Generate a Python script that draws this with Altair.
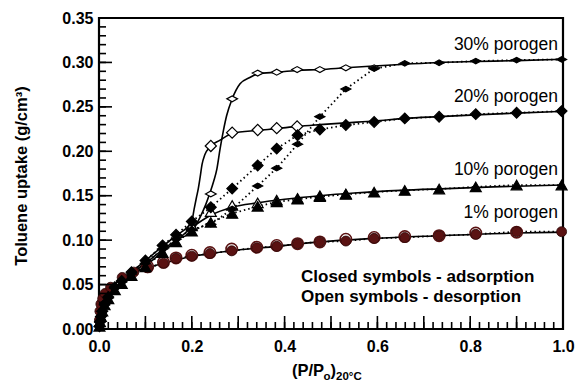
import altair as alt
import pandas as pd

# ---------------- data ----------------
# 1% porogen (circles)
P1_ADS_X = [0.001, 0.002, 0.004, 0.008, 0.013, 0.025, 0.05, 0.075, 0.105, 0.139, 0.166, 0.2, 0.239, 0.286,
            0.34, 0.383, 0.428, 0.476, 0.532, 0.593, 0.659, 0.733, 0.812, 0.9, 0.997]
P1_ADS_Y = [0.010, 0.020, 0.028, 0.034, 0.040, 0.047, 0.058, 0.064, 0.069, 0.074, 0.0795, 0.082, 0.085, 0.088,
            0.0915, 0.093, 0.096, 0.098, 0.099, 0.102, 0.103, 0.105, 0.1065, 0.1095, 0.1095]
P1_DES_X = [0.105, 0.139, 0.166, 0.2, 0.239, 0.286, 0.34, 0.383, 0.428, 0.476, 0.532, 0.593, 0.659, 0.733, 0.812, 0.9]
P1_DES_Y = [0.070, 0.075, 0.080, 0.083, 0.086, 0.090, 0.092, 0.094, 0.096, 0.098, 0.101, 0.103, 0.104, 0.105, 0.108, 0.109]
P1_FIT_X = [0.0, 0.002, 0.005, 0.01, 0.02, 0.035, 0.05, 0.075, 0.105, 0.139, 0.2, 0.286, 0.383, 0.476, 0.593, 0.733, 0.9, 1.0]
P1_FIT_Y = [0.0, 0.018, 0.029, 0.037, 0.044, 0.051, 0.057, 0.064, 0.069, 0.074, 0.0815, 0.088, 0.093, 0.098, 0.102, 0.105, 0.108, 0.109]

# common x grid of the black-symbol series
X_ADS = [0.001, 0.002, 0.004, 0.007, 0.012, 0.02, 0.034, 0.049, 0.07, 0.1, 0.137, 0.166, 0.2, 0.241, 0.287,
         0.342, 0.383, 0.428, 0.476, 0.532, 0.593, 0.659, 0.733, 0.812, 0.9, 0.997]

# 10% porogen (triangles)
P10_ADS_Y = [0.003, 0.008, 0.014, 0.020, 0.027, 0.034, 0.044, 0.051, 0.060, 0.070, 0.086, 0.098, 0.110, 0.120,
             0.130, 0.138, 0.143, 0.146, 0.149, 0.1515, 0.154, 0.156, 0.1575, 0.160, 0.162, 0.162]
P10_DES_X = [0.2, 0.241, 0.287, 0.342, 0.383, 0.428, 0.476, 0.532]
P10_DES_Y = [0.116, 0.132, 0.139, 0.142, 0.145, 0.147, 0.150, 0.152]
P10_FIT_X = [0.0, 0.002, 0.005, 0.01, 0.02, 0.035, 0.05, 0.07, 0.1, 0.137, 0.166, 0.2, 0.241, 0.287, 0.342,
             0.4, 0.476, 0.55, 0.65, 0.75, 0.85, 1.0]
P10_FIT_Y = [0.0, 0.009, 0.017, 0.025, 0.034, 0.044, 0.051, 0.060, 0.071, 0.087, 0.099, 0.114, 0.128, 0.137,
             0.142, 0.146, 0.150, 0.153, 0.156, 0.158, 0.160, 0.162]

# 20% porogen (large diamonds)
P20_ADS_Y = [0.003, 0.008, 0.014, 0.020, 0.028, 0.036, 0.047, 0.054, 0.064, 0.077, 0.094, 0.106, 0.121, 0.137,
             0.158, 0.184, 0.203, 0.218, 0.2246, 0.2295, 0.233, 0.237, 0.2388, 0.2418, 0.2433, 0.2452]
P20_DES_X = [0.241, 0.287, 0.342, 0.383, 0.427]
P20_DES_Y = [0.206, 0.221, 0.224, 0.226, 0.228]
P20_FIT_X = [0.0, 0.002, 0.005, 0.01, 0.02, 0.035, 0.05, 0.07, 0.1, 0.137, 0.166, 0.2, 0.205, 0.21, 0.214,
             0.218, 0.222, 0.228, 0.239, 0.261, 0.287, 0.342, 0.383, 0.427, 0.476, 0.532, 0.593, 0.659,
             0.733, 0.812, 0.9, 1.0]
P20_FIT_Y = [0.0, 0.009, 0.017, 0.025, 0.035, 0.046, 0.054, 0.064, 0.077, 0.093, 0.105, 0.121, 0.135, 0.148,
             0.158, 0.171, 0.185, 0.196, 0.205, 0.2125, 0.220, 0.2235, 0.2255, 0.228, 0.230, 0.232, 0.234,
             0.237, 0.239, 0.241, 0.243, 0.245]

# 30% porogen (flat diamonds)
P30_ADS_Y = [0.003, 0.008, 0.014, 0.020, 0.027, 0.035, 0.046, 0.053, 0.062, 0.074, 0.090, 0.101, 0.112, 0.118,
             0.135, 0.161, 0.181, 0.208, 0.239, 0.270, 0.293, 0.299, 0.2996, 0.3015, 0.3026, 0.3034]
P30_DES_X = [0.241, 0.287, 0.342, 0.383, 0.427, 0.476, 0.532, 0.593]
P30_DES_Y = [0.152, 0.259, 0.288, 0.289, 0.292, 0.292, 0.294, 0.294]
P30_FIT_X = [0.0, 0.002, 0.005, 0.01, 0.02, 0.035, 0.05, 0.07, 0.1, 0.137, 0.166, 0.2, 0.218, 0.23, 0.239,
             0.247, 0.254, 0.261, 0.268, 0.275, 0.287, 0.304, 0.325, 0.342, 0.383, 0.427, 0.476, 0.532,
             0.593, 0.659, 0.733, 0.812, 0.9, 1.0]
P30_FIT_Y = [0.0, 0.009, 0.017, 0.025, 0.034, 0.045, 0.053, 0.062, 0.074, 0.089, 0.100, 0.110, 0.126, 0.140,
             0.153, 0.166, 0.180, 0.203, 0.223, 0.240, 0.259, 0.276, 0.283, 0.287, 0.289, 0.291, 0.292,
             0.294, 0.296, 0.298, 0.300, 0.301, 0.302, 0.3035]

X_LABELS = [0.0, 0.2, 0.4, 0.6, 0.8, 1.0]
Y_LABELS = [0.0, 0.05, 0.10, 0.15, 0.20, 0.25, 0.30, 0.35]
X_MINOR = [round(i * 0.02, 2) for i in range(1, 50)]
X_MAJOR = [0.1, 0.2, 0.3, 0.4, 0.5, 0.6, 0.7, 0.8, 0.9]
Y_MINOR = [round(i * 0.01, 2) for i in range(1, 35)]
Y_MAJOR = [0.05, 0.10, 0.15, 0.20, 0.25, 0.30]

SERIES_LABELS = ["30% porogen", "20% porogen", "10% porogen", "1% porogen"]

# ---------------- chart ----------------
W, H = 464, 311
FONT = "Liberation Sans"
MAROON = "#5a1212"

xs = alt.Scale(domain=[0, 1], nice=False, zero=False)
ys = alt.Scale(domain=[0, 0.35], nice=False, zero=False)
X = alt.X("x:Q", scale=xs, axis=alt.Axis(values=X_LABELS, format=".1f", ticks=False, domain=False, grid=False,
                                         labelFont=FONT, labelFontWeight="bold", labelFontSize=16,
                                         labelColor="black", labelPadding=9, labelFlush=False, title=None))
Y = alt.Y("y:Q", scale=ys, axis=alt.Axis(values=Y_LABELS, format=".2f", ticks=False, domain=False, grid=False,
                                         labelFont=FONT, labelFontWeight="bold", labelFontSize=16,
                                         labelColor="black", labelPadding=6, title=None))


def frame(xv, yv, name):
    return pd.DataFrame({"x": xv, "y": yv, "s": name})


fits = pd.concat([frame(P1_FIT_X, P1_FIT_Y, "1"), frame(P10_FIT_X, P10_FIT_Y, "10"),
                  frame(P20_FIT_X, P20_FIT_Y, "20"), frame(P30_FIT_X, P30_FIT_Y, "30")])
dotted = pd.concat([frame(P1_ADS_X, P1_ADS_Y, "1"), frame(X_ADS, P10_ADS_Y, "10"),
                    frame(X_ADS, P20_ADS_Y, "20"), frame(X_ADS, P30_ADS_Y, "30")])

fit_layer = alt.Chart(fits).mark_line(interpolate="monotone", color="black", strokeWidth=1.6).encode(
    x=X, y=Y, detail="s:N", order="x:Q")
dot_layer = alt.Chart(dotted).mark_line(color="black", strokeWidth=1.8, strokeDash=[1.5, 3]).encode(
    x=X, y=Y, detail="s:N", order="x:Q")

FLAT = "M-1,0L0,-0.55L1,0L0,0.55Z"


def pts(df, shape, size, fill, stroke, sw=1.2):
    return alt.Chart(df).mark_point(shape=shape, size=size, filled=True, fill=fill, stroke=stroke,
                                    strokeWidth=sw, opacity=1).encode(x=X, y=Y)


layers = [
    fit_layer, dot_layer,
    pts(frame(P1_DES_X, P1_DES_Y, "1"), "circle", 130, "white", MAROON, 1.6),
    pts(frame(P1_ADS_X, P1_ADS_Y, "1"), "circle", 100, MAROON, "#2a0606", 0.8),
    pts(frame(P10_DES_X, P10_DES_Y, "10"), "triangle-up", 120, "white", "black"),
    pts(frame(X_ADS, P10_ADS_Y, "10"), "triangle-up", 120, "black", "black"),
    pts(frame(P20_DES_X, P20_DES_Y, "20"), "diamond", 125, "white", "black"),
    pts(frame(X_ADS, P20_ADS_Y, "20"), "diamond", 115, "black", "black"),
    pts(frame(P30_DES_X, P30_DES_Y, "30"), FLAT, 115, "white", "black"),
    pts(frame(X_ADS, P30_ADS_Y, "30"), FLAT, 100, "black", "black"),
]

# inward tick marks
layers += [
    alt.Chart(pd.DataFrame({"x": X_MINOR})).mark_rule(color="black", strokeWidth=1.6).encode(
        x=X, y=alt.value(H), y2=alt.value(H - 7)),
    alt.Chart(pd.DataFrame({"x": X_MAJOR})).mark_rule(color="black", strokeWidth=1.6).encode(
        x=X, y=alt.value(H), y2=alt.value(H - 13)),
    alt.Chart(pd.DataFrame({"y": Y_MINOR})).mark_rule(color="black", strokeWidth=1.6).encode(
        y=Y, x=alt.value(0), x2=alt.value(7)),
    alt.Chart(pd.DataFrame({"y": Y_MAJOR})).mark_rule(color="black", strokeWidth=1.6).encode(
        y=Y, x=alt.value(0), x2=alt.value(13)),
]

# series labels
label_y = [32, 84, 157, 200]
for txt, yy in zip(SERIES_LABELS, label_y):
    layers.append(alt.Chart(pd.DataFrame({"t": [txt]})).mark_text(
        font=FONT, fontSize=17.5, align="right", baseline="alphabetic", color="black").encode(
        text="t:N", x=alt.value(459), y=alt.value(yy)))

for txt, yy in [("Closed symbols - adsorption", 264), ("Open symbols - desorption", 284)]:
    layers.append(alt.Chart(pd.DataFrame({"t": [txt]})).mark_text(
        font=FONT, fontSize=17, fontWeight="bold", align="left", baseline="alphabetic", color="black").encode(
        text="t:N", x=alt.value(202), y=alt.value(yy)))

# axis titles
layers.append(alt.Chart(pd.DataFrame({"t": ["Toluene uptake (g/cm³)"]})).mark_text(
    font=FONT, fontSize=16.5, fontWeight="bold", angle=270, align="center", baseline="middle", color="black").encode(
    text="t:N", x=alt.value(-77), y=alt.value(158)))

for txt, xx, yy, fs in [("(P/P", 193, 358, 16.5), ("o", 224.5, 362, 11.5), (")", 231.5, 358, 16.5),
                        ("20°C", 237, 362, 11.5)]:
    layers.append(alt.Chart(pd.DataFrame({"t": [txt]})).mark_text(
        font=FONT, fontSize=fs, fontWeight="bold", align="left", baseline="alphabetic", color="black").encode(
        text="t:N", x=alt.value(xx), y=alt.value(yy)))

chart = alt.layer(*layers).properties(
    width=W, height=H,
    padding={"left": 99, "top": 18, "right": 12, "bottom": 56},
    autosize=alt.AutoSizeParams(type="none"),
    background="white",
).configure_view(stroke="black", strokeWidth=2.2)

chart.save("out.html", embed_options={"renderer": "svg", "actions": False})
